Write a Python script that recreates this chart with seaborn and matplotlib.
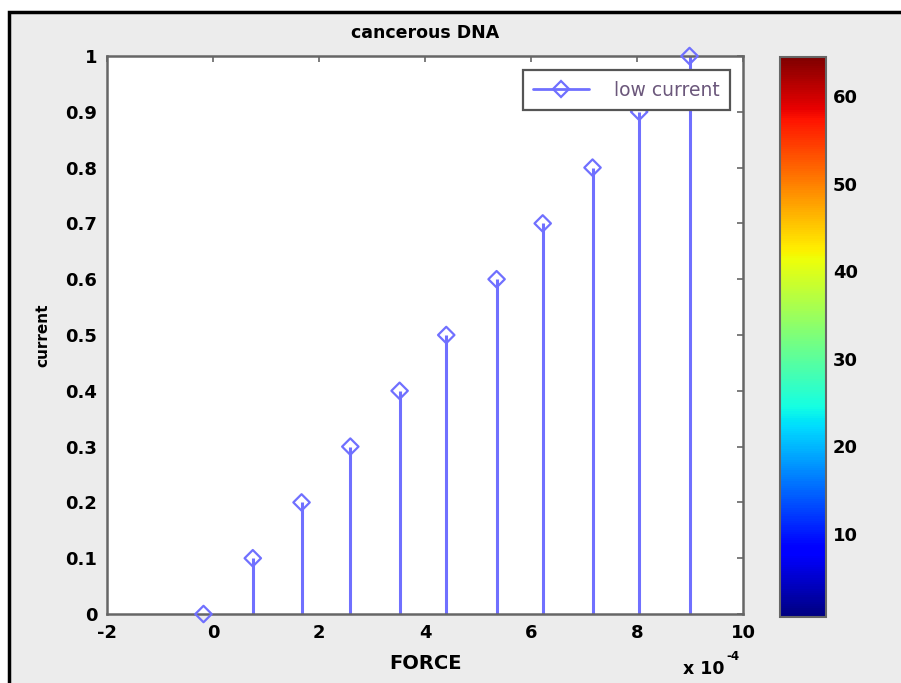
import numpy as np
import pandas as pd
import seaborn as sns
import matplotlib.pyplot as plt
from matplotlib.lines import Line2D
from matplotlib.patches import Rectangle
from matplotlib.colors import Normalize
from matplotlib.cm import ScalarMappable
from matplotlib.legend_handler import HandlerLine2D

# data (FORCE in units of 1e-4)
force = [-0.18, 0.75, 1.67, 2.59, 3.52, 4.40, 5.35, 6.22, 7.16, 8.04, 8.99]
current = [0.0, 0.1, 0.2, 0.3, 0.4, 0.5, 0.6, 0.7, 0.8, 0.9, 1.0]
x_ticks = [-2, 0, 2, 4, 6, 8, 10]
y_ticks = [0, 0.1, 0.2, 0.3, 0.4, 0.5, 0.6, 0.7, 0.8, 0.9, 1]
cbar_ticks = [10, 20, 30, 40, 50, 60]

df = pd.DataFrame({"force": force, "current": current})

sns.set_style("white")
plt.rcParams["font.family"] = ["DejaVu Sans"]
plt.rcParams["text.color"] = "black"
plt.rcParams["axes.labelcolor"] = "black"

stem_col = "#7070ff"
grey = "#666666"


class StemHandler(HandlerLine2D):
    # matlab-style stem legend: marker sits at the right end of the line
    def get_xdata(self, legend, xdescent, ydescent, width, height, fontsize):
        xdata, _ = super().get_xdata(legend, xdescent, ydescent, width, height, fontsize)
        return xdata, np.array([xdata[-1]])


fig = plt.figure(figsize=(9.01, 6.83), dpi=100, facecolor="white")
# grey figure panel with black border (top and left visible)
fig.add_artist(Rectangle((0.010, -0.1), 1.1, 1.0824, transform=fig.transFigure,
                         facecolor="#ececec", edgecolor="black", linewidth=2.5, zorder=-10))

ax = fig.add_axes([0.1188, 0.1010, 0.7059, 0.8170])
ax.set_facecolor("white")

# stems
ax.vlines(df["force"], 0, df["current"], color=stem_col, linewidth=2.2, zorder=2)
sns.scatterplot(data=df, x="force", y="current", marker="D", s=70,
                facecolor="none", edgecolor=stem_col, linewidth=1.6,
                legend=False, ax=ax, zorder=3, clip_on=False)

ax.set_xlim(-2, 10)
ax.set_ylim(0, 1)
ax.set_xticks(x_ticks)
ax.set_xticklabels([str(t) for t in x_ticks])
ax.set_yticks(y_ticks)
ax.set_yticklabels(["0"] + [f"{t:g}" for t in y_ticks[1:]])
ax.tick_params(direction="in", length=4, width=1.2, color=grey, labelsize=13,
               labelcolor="black", top=True, right=True, pad=7)
for lab in ax.get_xticklabels() + ax.get_yticklabels():
    lab.set_fontweight("bold")
for sp in ax.spines.values():
    sp.set_color(grey)
    sp.set_linewidth(1.8)
    sp.set_visible(True)

ax.set_title("cancerous DNA", fontsize=12.5, fontweight="bold", pad=13, color="black")
ax.set_xlabel("FORCE", fontsize=14, fontweight="bold", labelpad=9)
ax.set_ylabel("current", fontsize=11, fontweight="bold", labelpad=11)

# x multiplier
fig.text(0.758, 0.007, "x 10", fontsize=12.5, fontweight="bold", va="bottom")
fig.text(0.806, 0.030, "-4", fontsize=8.5, fontweight="bold", va="bottom")

# legend with marker at the right end
handle = Line2D([0, 1], [0, 0], color=stem_col, linewidth=2, marker="D",
                markersize=8, markerfacecolor="none", markeredgecolor=stem_col,
                markeredgewidth=1.6)
leg = ax.legend([handle], ["low current"], loc="upper right",
                handler_map={Line2D: StemHandler()},
                bbox_to_anchor=(0.985, 0.981), fontsize=13.5, handlelength=3.0,
                frameon=True, fancybox=False, borderpad=0.55, handletextpad=1.3,
                borderaxespad=0.2)
leg.get_frame().set_edgecolor("#555555")
leg.get_frame().set_linewidth(1.6)
leg.get_frame().set_facecolor("white")
leg.get_frame().set_alpha(1)
for t in leg.get_texts():
    t.set_color("#6b577b")

# colorbar (jet)
cax = fig.add_axes([0.8657, 0.0966, 0.0511, 0.8199])
sm = ScalarMappable(norm=Normalize(0.5, 64.5), cmap=plt.get_cmap("jet"))
cb = fig.colorbar(sm, cax=cax, ticks=cbar_ticks)
cb.outline.set_edgecolor(grey)
cb.outline.set_linewidth(1.5)
cax.tick_params(direction="in", length=5, width=1.5, color="#333333", labelsize=13,
                labelcolor="black", left=True, right=True, pad=5)
for lab in cax.get_yticklabels():
    lab.set_fontweight("bold")

fig.savefig("out.png", dpi=100, facecolor=fig.get_facecolor())
